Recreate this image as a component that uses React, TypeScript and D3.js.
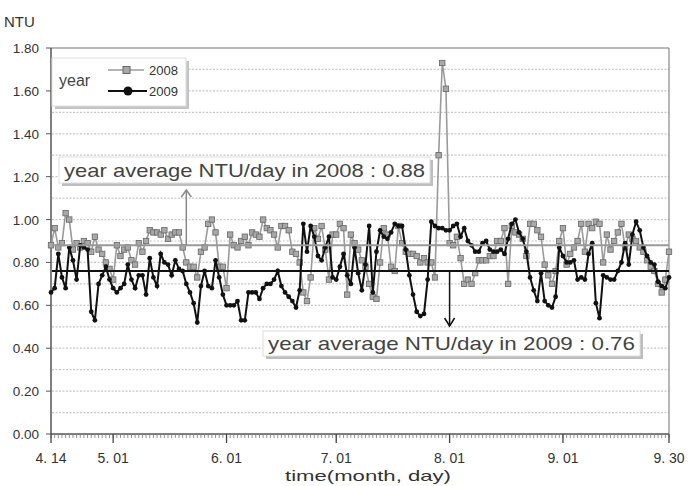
import { useEffect, useRef } from 'react';
import * as d3 from 'd3';

// daily NTU, 4.14 -> 9.30
const startDate = new Date(2009, 3, 14);
const endDate = new Date(2009, 8, 30);

const ntu2008 = [
  0.88, 0.96, 0.87, 0.89, 1.03, 1.0, 0.86, 0.89, 0.87, 0.9,
  0.89, 0.85, 0.92, 0.86, 0.84, 0.8, 0.77, 0.72, 0.88, 0.83,
  0.86, 0.87, 0.81, 0.79, 0.89, 0.85, 0.9, 0.95, 0.94, 0.94,
  0.93, 0.95, 0.91, 0.93, 0.94, 0.94, 0.87, 0.8, 0.78, 0.78,
  0.73, 0.85, 0.87, 0.98, 1.0, 0.94, 0.78, 0.78, 0.68, 0.93,
  0.88, 0.87, 0.9, 0.92, 0.88, 0.94, 0.93, 0.92, 1.0, 0.96,
  0.95, 0.93, 0.87, 0.97, 0.97, 0.95, 0.85, 0.84, 0.8, 0.66,
  0.62, 0.73, 0.96, 0.91, 0.97, 0.86, 0.72, 0.93, 0.93, 0.98,
  0.96, 0.65, 0.93, 0.89, 0.86, 0.81, 0.78, 0.7, 0.64, 0.63,
  0.8, 0.96, 0.93, 0.78, 0.76, 0.97, 0.89, 0.85, 0.84, 0.84,
  0.83, 0.8, 0.82, 0.8, 0.8, 0.73, 1.3, 1.73, 1.61, 0.89,
  0.88, 0.92, 0.82, 0.7, 0.72, 0.7, 0.75, 0.81, 0.81, 0.81,
  0.83, 0.83, 0.9, 0.9, 0.96, 0.7, 0.97, 0.94, 0.93, 0.91,
  0.83, 0.98, 0.98, 0.95, 0.92, 0.79, 0.74, 0.7, 0.76, 0.9,
  0.96, 0.79, 0.84, 0.87, 0.9, 0.98, 0.85, 0.98, 0.96, 0.99,
  0.98, 0.8, 0.93, 0.86, 0.9, 0.94, 0.98, 0.87, 0.93, 0.91,
  0.9, 0.87, 0.85, 0.81, 0.78, 0.76, 0.7, 0.66, 0.72, 0.85,
];

const ntu2009 = [
  0.66, 0.68, 0.84, 0.73, 0.68, 0.87, 0.81, 0.72, 0.88, 0.87,
  0.86, 0.57, 0.53, 0.7, 0.74, 0.78, 0.72, 0.68, 0.66, 0.68,
  0.7, 0.79, 0.72, 0.68, 0.74, 0.74, 0.65, 0.82, 0.73, 0.69,
  0.84, 0.8, 0.79, 0.74, 0.81, 0.77, 0.76, 0.7, 0.66, 0.61,
  0.52, 0.69, 0.76, 0.69, 0.68, 0.81, 0.73, 0.65, 0.6, 0.6,
  0.6, 0.62, 0.53, 0.53, 0.66, 0.66, 0.66, 0.63, 0.68, 0.7,
  0.7, 0.72, 0.76, 0.69, 0.66, 0.64, 0.62, 0.59, 0.67, 0.98,
  0.85, 0.97, 0.92, 0.83, 0.81, 0.87, 0.92, 0.73, 0.72, 0.78,
  0.84, 0.74, 0.7, 0.87, 0.75, 0.67, 0.79, 0.97, 0.66, 0.85,
  0.95, 0.92, 0.91, 0.94, 0.98, 0.97, 0.97, 0.86, 0.74, 0.65,
  0.57, 0.55, 0.56, 0.72, 0.99, 0.97, 0.96, 0.96, 0.95, 0.95,
  0.97, 0.98, 0.92, 0.96, 0.9, 0.88, 0.85, 0.85, 0.89, 0.9,
  0.86, 0.85, 0.85, 0.86, 0.84, 0.91, 0.98, 1.0, 0.94, 0.91,
  0.85, 0.73, 0.67, 0.62, 0.75, 0.62, 0.6, 0.59, 0.64, 0.87,
  0.83, 0.8, 0.8, 0.81, 0.72, 0.73, 0.72, 0.84, 0.89, 0.61,
  0.54, 0.74, 0.73, 0.72, 0.72, 0.76, 0.8, 0.89, 0.79, 0.93,
  0.99, 0.95, 0.87, 0.83, 0.8, 0.79, 0.71, 0.69, 0.68, 0.73,
];

const avg2008 = 0.88;
const avg2009 = 0.76;

const yTicks = [0, 0.2, 0.4, 0.6, 0.8, 1.0, 1.2, 1.4, 1.6, 1.8];
const yGrid = [0.1, 0.2, 0.3, 0.4, 0.5, 0.6, 0.7, 0.8, 0.9, 1.0, 1.1, 1.2, 1.3, 1.4, 1.5, 1.6, 1.7];
const xTickDates = [
  new Date(2009, 3, 14), new Date(2009, 4, 1), new Date(2009, 5, 1), new Date(2009, 6, 1),
  new Date(2009, 7, 1), new Date(2009, 8, 1), new Date(2009, 8, 30),
];
const xTickLabels = ['4. 14', '5. 01', '6. 01', '7. 01', '8. 01', '9. 01', '9. 30'];

const FONT = '"Liberation Sans", Arial, sans-serif';

function App() {
  const ref = useRef<SVGSVGElement>(null);

  useEffect(() => {
    const svg = d3.select(ref.current);
    svg.selectAll('*').remove();

    const x = d3.scaleTime().domain([startDate, endDate]).range([51, 669]);
    const y = d3.scaleLinear().domain([0, 1.8]).range([434, 48]);
    const dayOf = (i: number) => d3.timeDay.offset(startDate, i);

    // grid
    svg.append('g')
      .selectAll('line')
      .data(yGrid)
      .enter()
      .append('line')
      .attr('x1', 52).attr('x2', 669)
      .attr('y1', (d) => y(d)).attr('y2', (d) => y(d))
      .attr('stroke', '#c8c8c8')
      .attr('stroke-width', 1.2)
      .attr('stroke-dasharray', '2,1.5');

    // frame top / right
    svg.append('line').attr('x1', 51).attr('x2', 669).attr('y1', y(1.8)).attr('y2', y(1.8))
      .attr('stroke', '#777').attr('stroke-width', 1.2);
    svg.append('line').attr('x1', 669).attr('x2', 669).attr('y1', y(1.8)).attr('y2', y(0))
      .attr('stroke', '#888').attr('stroke-width', 1.2);

    // y axis
    const yAxis = svg.append('g');
    yAxis.append('line').attr('x1', 51).attr('x2', 51).attr('y1', y(1.8)).attr('y2', y(0))
      .attr('stroke', '#555').attr('stroke-width', 1.5);
    yAxis.selectAll('line.tick')
      .data(yTicks)
      .enter()
      .append('line')
      .attr('class', 'tick')
      .attr('x1', 46).attr('x2', 51)
      .attr('y1', (d) => y(d)).attr('y2', (d) => y(d))
      .attr('stroke', '#555');
    yAxis.selectAll('text')
      .data(yTicks)
      .enter()
      .append('text')
      .attr('x', 39)
      .attr('y', (d) => y(d) + 5)
      .attr('text-anchor', 'end')
      .attr('font-family', FONT)
      .attr('font-size', 13.5)
      .attr('fill', '#333')
      .text((d) => d.toFixed(2));

    svg.append('text').attr('x', 4).attr('y', 27)
      .attr('font-family', FONT).attr('font-size', 15).attr('fill', '#333')
      .text('NTU');

    // x axis
    const xAxis = svg.append('g');
    xAxis.append('line').attr('x1', 51).attr('x2', 669).attr('y1', y(0)).attr('y2', y(0))
      .attr('stroke', '#555').attr('stroke-width', 1.5);
    xAxis.selectAll('line.minor')
      .data(d3.timeDay.range(startDate, d3.timeDay.offset(endDate, 1)))
      .enter()
      .append('line')
      .attr('class', 'minor')
      .attr('x1', (d) => x(d)).attr('x2', (d) => x(d))
      .attr('y1', y(0)).attr('y2', y(0) + 4)
      .attr('stroke', '#777').attr('stroke-width', 0.8);
    xAxis.selectAll('line.major')
      .data(xTickDates)
      .enter()
      .append('line')
      .attr('class', 'major')
      .attr('x1', (d) => x(d)).attr('x2', (d) => x(d))
      .attr('y1', y(0)).attr('y2', y(0) + 9)
      .attr('stroke', '#444').attr('stroke-width', 1.3);
    xAxis.selectAll('text')
      .data(xTickDates)
      .enter()
      .append('text')
      .attr('x', (d) => x(d))
      .attr('y', 463)
      .attr('text-anchor', 'middle')
      .attr('font-family', FONT)
      .attr('font-size', 14)
      .attr('fill', '#333')
      .text((d, i) => xTickLabels[i]);

    svg.append('text').attr('x', 368).attr('y', 481)
      .attr('text-anchor', 'middle')
      .attr('font-family', FONT).attr('font-size', 15).attr('fill', '#333')
      .attr('textLength', 166).attr('lengthAdjust', 'spacingAndGlyphs')
      .text('time(month, day)');

    // series
    const line = d3.line<number>()
      .x((d, i) => x(dayOf(i)))
      .y((d) => y(d));

    svg.append('path').datum(ntu2008)
      .attr('d', line).attr('fill', 'none')
      .attr('stroke', '#9a9a9a').attr('stroke-width', 1.6);
    svg.append('g').selectAll('rect')
      .data(ntu2008)
      .enter()
      .append('rect')
      .attr('x', (d, i) => x(dayOf(i)) - 2.7)
      .attr('y', (d) => y(d) - 2.7)
      .attr('width', 5.4).attr('height', 5.4)
      .attr('fill', '#a8a8a8').attr('stroke', '#666').attr('stroke-width', 0.8);

    svg.append('path').datum(ntu2009)
      .attr('d', line).attr('fill', 'none')
      .attr('stroke', '#111').attr('stroke-width', 2);
    svg.append('g').selectAll('circle')
      .data(ntu2009)
      .enter()
      .append('circle')
      .attr('cx', (d, i) => x(dayOf(i)))
      .attr('cy', (d) => y(d))
      .attr('r', 2.4)
      .attr('fill', '#111');

    // average lines
    svg.append('line').attr('x1', 52).attr('x2', 669).attr('y1', y(avg2008)).attr('y2', y(avg2008))
      .attr('stroke', '#999').attr('stroke-width', 2);
    svg.append('line').attr('x1', 52).attr('x2', 669).attr('y1', y(avg2009)).attr('y2', y(avg2009))
      .attr('stroke', '#111').attr('stroke-width', 2);

    // arrows
    const arrowX2008 = x(new Date(2009, 4, 21));
    svg.append('line').attr('x1', arrowX2008).attr('x2', arrowX2008)
      .attr('y1', y(avg2008)).attr('y2', 190)
      .attr('stroke', '#888').attr('stroke-width', 1.5);
    svg.append('path')
      .attr('d', `M${arrowX2008 - 5},${197} L${arrowX2008},${190} L${arrowX2008 + 5},${197}`)
      .attr('fill', 'none').attr('stroke', '#888').attr('stroke-width', 1.5);

    const arrowX2009 = x(new Date(2009, 7, 1));
    svg.append('line').attr('x1', arrowX2009).attr('x2', arrowX2009)
      .attr('y1', y(avg2009)).attr('y2', 326)
      .attr('stroke', '#111').attr('stroke-width', 1.5);
    svg.append('path')
      .attr('d', `M${arrowX2009 - 5},${318} L${arrowX2009},${326} L${arrowX2009 + 5},${318}`)
      .attr('fill', 'none').attr('stroke', '#111').attr('stroke-width', 1.5);

    // note boxes
    const noteBox = (bx: number, by: number, bw: number, bh: number, label: string) => {
      svg.append('rect').attr('x', bx + 3).attr('y', by + 3).attr('width', bw).attr('height', bh)
        .attr('fill', '#bdbdbd');
      svg.append('rect').attr('x', bx).attr('y', by).attr('width', bw).attr('height', bh)
        .attr('fill', '#fff').attr('stroke', '#ddd');
      svg.append('text').attr('x', bx + 5).attr('y', by + bh - 6)
        .attr('font-family', FONT).attr('font-size', 19).attr('fill', '#444')
        .attr('textLength', bw - 10).attr('lengthAdjust', 'spacingAndGlyphs')
        .text(label);
    };
    noteBox(59, 157, 371, 26, `year average NTU/day in 2008 : ${avg2008.toFixed(2)}`);
    noteBox(263, 331, 377, 25, `year average NTU/day in 2009 : ${avg2009.toFixed(2)}`);

    // legend
    const lg = svg.append('g');
    lg.append('rect').attr('x', 55).attr('y', 61).attr('width', 134).attr('height', 48).attr('fill', '#c4c4c4');
    lg.append('rect').attr('x', 52).attr('y', 58).attr('width', 134).attr('height', 48)
      .attr('fill', '#fff').attr('stroke', '#ddd');
    lg.append('text').attr('x', 59).attr('y', 86)
      .attr('font-family', FONT).attr('font-size', 16).attr('fill', '#444').text('year');
    lg.append('line').attr('x1', 108).attr('x2', 144).attr('y1', 70).attr('y2', 70)
      .attr('stroke', '#9a9a9a').attr('stroke-width', 1.6);
    lg.append('rect').attr('x', 123).attr('y', 66.5).attr('width', 7).attr('height', 7)
      .attr('fill', '#a8a8a8').attr('stroke', '#666');
    lg.append('text').attr('x', 149).attr('y', 74.5)
      .attr('font-family', FONT).attr('font-size', 12).attr('fill', '#333')
      .attr('textLength', 29).attr('lengthAdjust', 'spacingAndGlyphs').text('2008');
    lg.append('line').attr('x1', 108).attr('x2', 147).attr('y1', 91).attr('y2', 91)
      .attr('stroke', '#111').attr('stroke-width', 2);
    lg.append('circle').attr('cx', 128).attr('cy', 91).attr('r', 4.5).attr('fill', '#111');
    lg.append('text').attr('x', 149).attr('y', 95.5)
      .attr('font-family', FONT).attr('font-size', 12).attr('fill', '#333')
      .attr('textLength', 29).attr('lengthAdjust', 'spacingAndGlyphs').text('2009');
  }, []);

  return (
    <div style={{ position: 'absolute', left: 0, top: 0 }}>
      <svg ref={ref} width={691} height={486} style={{ display: 'block', background: '#fff' }} />
    </div>
  );
}

export default App;
